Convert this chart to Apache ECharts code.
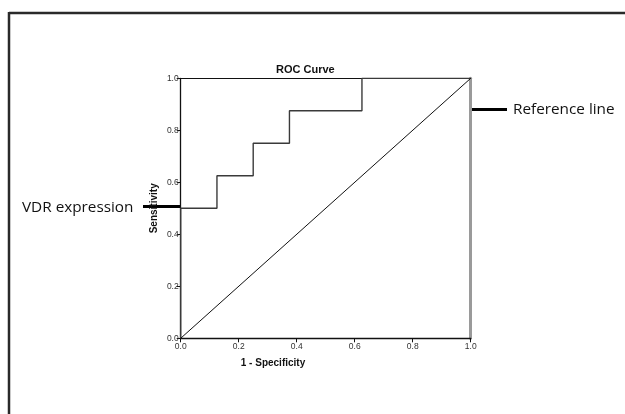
<!DOCTYPE html>
<html>
<head>
<meta charset="utf-8">
<script src="https://cdn.jsdelivr.net/npm/echarts@6/dist/echarts.min.js"></script>
<style>
html,body{margin:0;padding:0;background:#fff;}
#c{width:625px;height:414px;}
</style>
</head>
<body>
<div id="c"></div>
<script>
// ROC curve points (1 - Specificity, Sensitivity)
var rocFpr = [0, 0, 0.125, 0.125, 0.25, 0.25, 0.375, 0.375, 0.625, 0.625, 1];
var rocTpr = [0, 0.5, 0.5, 0.625, 0.625, 0.75, 0.75, 0.875, 0.875, 1, 1];
// Reference (diagonal) line
var refX = [0, 1];
var refY = [0, 1];
var tickValues = [0, 0.2, 0.4, 0.6, 0.8, 1.0];
var titleText = 'ROC Curve';
var xName = '1 - Specificity';
var yName = 'Sensitivity';
var annVdr = 'VDR expression';
var annRef = 'Reference line';

function zip(a, b) { return a.map(function (v, i) { return [v, b[i]]; }); }

var chart = echarts.init(document.getElementById('c'), null, {renderer: 'canvas'});
var tickFont = {fontSize: 8.5, color: '#333', fontFamily: 'Liberation Sans'};
chart.setOption({
  animation: false,
  backgroundColor: '#fff',
  title: {
    text: titleText, left: 276, top: 64, padding: 0,
    textStyle: {fontSize: 11, fontWeight: 'bold', color: '#111', fontFamily: 'Liberation Sans'}
  },
  grid: {left: 180.7, right: 154.3, top: 78.3, bottom: 75.7, containLabel: false},
  xAxis: [{
    type: 'value', min: 0, max: 1, interval: 0.2,
    axisLine: {show: true, onZero: false, lineStyle: {color: '#111', width: 1.3}},
    axisTick: {show: true, length: 4, lineStyle: {color: '#111', width: 1}},
    axisLabel: Object.assign({margin: 4, formatter: function (v) { return v.toFixed(1); }}, tickFont),
    splitLine: {show: false}
  }, {
    type: 'value', min: 0, max: 1, position: 'top',
    axisLine: {show: true, onZero: false, lineStyle: {color: '#111', width: 1}},
    axisTick: {show: false}, axisLabel: {show: false}, splitLine: {show: false}
  }],
  yAxis: [{
    type: 'value', min: 0, max: 1, interval: 0.2,
    name: yName, nameLocation: 'middle', nameGap: 21,
    nameTextStyle: {fontSize: 10, fontWeight: 'bold', color: '#111', fontFamily: 'Liberation Sans'},
    axisLine: {show: true, onZero: false, lineStyle: {color: '#111', width: 1.3}},
    axisTick: {show: true, length: 4, lineStyle: {color: '#111', width: 1}},
    axisLabel: Object.assign({margin: 2, formatter: function (v) { return v.toFixed(1); }}, tickFont),
    splitLine: {show: false}
  }, {
    type: 'value', min: 0, max: 1, position: 'right',
    axisLine: {show: true, onZero: false, lineStyle: {color: '#9a9a9a', width: 3}},
    axisTick: {show: false}, axisLabel: {show: false}, splitLine: {show: false}
  }],
  series: [{
    name: 'VDR expression', type: 'line', data: zip(rocFpr, rocTpr),
    showSymbol: false, symbol: 'none',
    lineStyle: {color: '#3a3a3a', width: 1.4}
  }, {
    name: 'Reference line', type: 'line', data: zip(refX, refY),
    showSymbol: false, symbol: 'none',
    lineStyle: {color: '#111', width: 1}
  }],
  graphic: [
    {type: 'line', shape: {x1: 9, y1: 13, x2: 625, y2: 13}, style: {stroke: '#2a2a2a', lineWidth: 2.5}},
    {type: 'line', shape: {x1: 9, y1: 12, x2: 9, y2: 414}, style: {stroke: '#2a2a2a', lineWidth: 2.5}},
    {type: 'text', x: 273, y: 363, style: {text: xName, font: 'bold 10px "Liberation Sans"', fill: '#111', textAlign: 'center', textVerticalAlign: 'middle'}},
    {type: 'text', x: 22, y: 208, style: {text: annVdr, font: '15.3px "Open Sans"', fill: '#111', textAlign: 'left', textVerticalAlign: 'middle'}},
    {type: 'line', shape: {x1: 143, y1: 206.5, x2: 180, y2: 206.5}, style: {stroke: '#000', lineWidth: 3}},
    {type: 'text', x: 513, y: 110, style: {text: annRef, font: '15.3px "Open Sans"', fill: '#111', textAlign: 'left', textVerticalAlign: 'middle'}},
    {type: 'line', shape: {x1: 470, y1: 109.5, x2: 507, y2: 109.5}, style: {stroke: '#000', lineWidth: 3}}
  ]
});
</script>
</body>
</html>
